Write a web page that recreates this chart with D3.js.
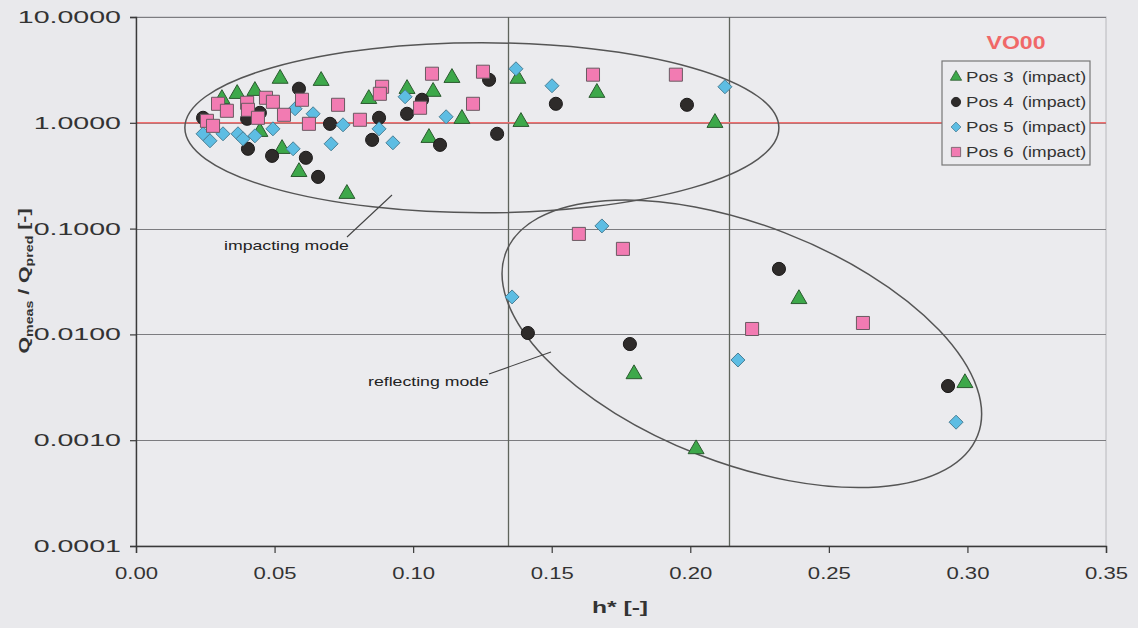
<!DOCTYPE html>
<html>
<head>
<meta charset="utf-8">
<script src="https://cdn.jsdelivr.net/npm/d3@7"></script>
<style>
  html, body { margin: 0; padding: 0; background: #e9e9ec; }
  svg { display: block; font-family: "Liberation Sans", Arial, sans-serif; }
</style>
</head>
<body>
<svg id="chart" width="1138" height="628"></svg>
<script>
// ---- data: dimensionless height h* vs. ratio of measured to predicted discharge ----
const pos3H = [0.0310, 0.0365, 0.0429, 0.0520, 0.0668, 0.0447, 0.0527, 0.0588, 0.0761, 0.0840, 0.0978, 0.1072,
               0.1140, 0.1176, 0.1057, 0.1378, 0.1389, 0.1663, 0.2089, 0.2392, 0.1797, 0.2021, 0.2991];
const pos3Q = [1.72, 1.92, 2.05, 2.67, 2.55, 0.840, 0.580, 0.351, 0.218, 1.72, 2.14, 2.01,
               2.72, 1.115, 0.737, 2.67, 1.044, 1.965, 1.022, 0.0221, 0.00431, 0.000842, 0.00355];

const pos4H = [0.0242, 0.0401, 0.0447, 0.0404, 0.0491, 0.0588, 0.0613, 0.0657, 0.0700, 0.0877, 0.0852, 0.0978,
               0.1032, 0.1097, 0.1274, 0.1303, 0.1515, 0.1988, 0.2320, 0.1414, 0.1782, 0.2930];
const pos4Q = [1.115, 1.091, 1.243, 0.568, 0.487, 2.10, 0.467, 0.308, 0.978, 1.115, 0.690, 1.217,
               1.651, 0.619, 2.55, 0.787, 1.512, 1.480, 0.0416, 0.01031, 0.00811, 0.00325];

const pos5H = [0.0242, 0.0267, 0.0314, 0.0368, 0.0386, 0.0429, 0.0494, 0.0574, 0.0567, 0.0639, 0.0747, 0.0704,
               0.0877, 0.0927, 0.0971, 0.1119, 0.1371, 0.1501, 0.2125, 0.1681, 0.1357, 0.2172, 0.2959];
const pos5Q = [0.787, 0.676, 0.787, 0.787, 0.706, 0.753, 0.877, 1.357, 0.568, 1.217, 0.957, 0.633,
               0.877, 0.647, 1.762, 1.140, 3.24, 2.24, 2.19, 0.106, 0.0226, 0.00573, 0.00148];

const pos6H = [0.0256, 0.0278, 0.0296, 0.0328, 0.0401, 0.0404, 0.0469, 0.0494, 0.0440, 0.0534, 0.0599, 0.0624,
               0.0729, 0.0808, 0.0888, 0.0880, 0.1025, 0.1068, 0.1216, 0.1252, 0.1649, 0.1948, 0.1598, 0.1757,
               0.2223, 0.2623];
const pos6Q = [1.044, 0.936, 1.512, 1.299, 1.546, 1.327, 1.724, 1.580, 1.115, 1.190, 1.651, 0.978,
               1.480, 1.068, 2.19, 1.88, 1.387, 2.91, 1.512, 3.04, 2.85, 2.85, 0.0891, 0.0643,
               0.01125, 0.01282];

const seriesNames = ["Pos 3", "Pos 4", "Pos 5", "Pos 6"];
const seriesNote = "(impact)";
const xTicks = [0.00, 0.05, 0.10, 0.15, 0.20, 0.25, 0.30, 0.35];
const yTicks = [0.0001, 0.001, 0.01, 0.1, 1, 10];
const boundaryH = [0.1342, 0.2140];   // vertical reference lines
const unityRatio = 1;                 // Q_meas = Q_pred
const chartTitle = "VO00";

// ---- layout ----
const svg = d3.select("#chart");
const X0 = 136, X1 = 1106, Y0 = 546, Y1 = 17;
const x = d3.scaleLinear().domain([0, 0.35]).range([X0, X1]);
const y = d3.scaleLog().domain([0.0001, 10]).range([Y0, Y1]);

const ink = "#3a3a3a";

// widen glyphs of a text selection by a factor (wide, condensed-height lettering)
function widen(sel, f) {
  sel.each(function () {
    const w = this.getComputedTextLength();
    d3.select(this).attr("textLength", w * f).attr("lengthAdjust", "spacingAndGlyphs");
  });
}

// plot frame (light)
svg.append("rect").attr("x", X0).attr("y", Y1).attr("width", X1 - X0).attr("height", Y0 - Y1)
  .attr("fill", "#ebebee").attr("stroke", "#b8b8bc").attr("stroke-width", 1);

// horizontal gridlines at each decade
svg.append("g").selectAll("line").data(yTicks.slice(1)).join("line")
  .attr("x1", X0).attr("x2", X1)
  .attr("y1", d => Math.round(y(d)) + 0.5).attr("y2", d => Math.round(y(d)) + 0.5)
  .attr("stroke", "#7c7c80").attr("stroke-width", 1);

// vertical reference lines
svg.append("g").selectAll("line").data(boundaryH).join("line")
  .attr("x1", d => Math.round(x(d)) + 0.5).attr("x2", d => Math.round(x(d)) + 0.5)
  .attr("y1", Y1).attr("y2", Y0)
  .attr("stroke", "#5f645c").attr("stroke-width", 1.3);

// unity line
svg.append("line")
  .attr("x1", X0).attr("x2", X1).attr("y1", y(unityRatio)).attr("y2", y(unityRatio))
  .attr("stroke", "#f07070").attr("stroke-width", 1.6);

// axes
const yAxis = d3.axisLeft(y).tickValues(yTicks).tickFormat(d3.format(".4f")).tickSize(6).tickPadding(9);
const gy = svg.append("g").attr("transform", `translate(${X0},0)`).call(yAxis);
const xAxis = d3.axisBottom(x).tickValues(xTicks).tickFormat(d3.format(".2f")).tickSize(7).tickPadding(14);
const gx = svg.append("g").attr("transform", `translate(0,${Y0})`).call(xAxis);
[gx, gy].forEach(g => {
  g.selectAll("path").attr("stroke", ink).attr("stroke-width", 1.4);
  g.selectAll("line").attr("stroke", ink).attr("stroke-width", 1.2);
  g.selectAll("text").attr("fill", "#333").attr("font-size", 17)
    .attr("font-family", "'Liberation Sans', Arial, sans-serif");
});
widen(gy.selectAll("text"), 1.68);
widen(gx.selectAll("text"), 1.3);

// annotation ellipses
const upper = { h: 0.1248, q: 0.897, rx: 297, ry: 85, rot: 0 };
const lower = { h: 0.2186, q: 0.00815, rx: 253, ry: 119, rot: 21.2 };
[upper, lower].forEach(e => {
  svg.append("ellipse")
    .attr("cx", 0).attr("cy", 0).attr("rx", e.rx).attr("ry", e.ry)
    .attr("transform", `translate(${x(e.h)},${y(e.q)}) rotate(${e.rot})`)
    .attr("fill", "none").attr("stroke", "#555").attr("stroke-width", 1.5);
});

// annotation labels with leader lines
const notes = [
  { text: "impacting mode", tx: 224, ty: 250, lx1: 347, ly1: 237, lx2: 392, ly2: 195 },
  { text: "reflecting mode", tx: 368, ty: 386, lx1: 489, ly1: 374, lx2: 551, ly2: 352 }
];
notes.forEach(n => {
  svg.append("line").attr("x1", n.lx1).attr("y1", n.ly1).attr("x2", n.lx2).attr("y2", n.ly2)
    .attr("stroke", "#444").attr("stroke-width", 1.1);
  const t = svg.append("text").attr("x", n.tx).attr("y", n.ty).text(n.text)
    .attr("font-size", 13).attr("fill", "#222");
  widen(t, 1.36);
});

// marker styles
const diamond = {
  draw(ctx, size) {
    const r = Math.sqrt(size) / 2 * Math.SQRT2;
    ctx.moveTo(0, -r); ctx.lineTo(r, 0); ctx.lineTo(0, r); ctx.lineTo(-r, 0); ctx.closePath();
  }
};
const styles = [
  { type: d3.symbolTriangle, size: 110, fill: "#3da84a", stroke: "#2c5a30", dy: 1 },
  { type: d3.symbolCircle,   size: 135, fill: "#2e2b2a", stroke: "#1c1a1a", dy: 0 },
  { type: diamond,           size: 98,  fill: "#5dbde3", stroke: "#4a7f95", dy: 0 },
  { type: d3.symbolSquare,   size: 170, fill: "#f27bb2", stroke: "#6a5a62", dy: 0 }
];
const series = [
  { h: pos3H, q: pos3Q },
  { h: pos4H, q: pos4Q },
  { h: pos5H, q: pos5Q },
  { h: pos6H, q: pos6Q }
];

series.forEach((s, i) => {
  const st = styles[i];
  const pts = s.h.map((h, k) => ({ h, q: s.q[k] }));
  svg.append("g").selectAll("path").data(pts).join("path")
    .attr("d", d3.symbol().type(st.type).size(st.size))
    .attr("transform", d => `translate(${x(d.h)},${y(d.q) + st.dy})`)
    .attr("fill", st.fill).attr("stroke", st.stroke).attr("stroke-width", 1);
});

// title
const tt = svg.append("text").attr("x", 1016).attr("y", 49).attr("text-anchor", "middle")
  .attr("font-size", 18).attr("font-weight", "bold").attr("fill", "#f06868").text(chartTitle);
widen(tt, 1.28);

// legend
const lg = svg.append("g").attr("transform", "translate(942,61)");
lg.append("rect").attr("width", 148).attr("height", 104)
  .attr("fill", "#ebebee").attr("stroke", "#777").attr("stroke-width", 1.2);
seriesNames.forEach((name, i) => {
  const st = styles[i];
  const cy = 16 + i * 25;
  lg.append("path").attr("d", d3.symbol().type(st.type).size(st.size * 0.5))
    .attr("transform", `translate(14,${cy})`)
    .attr("fill", st.fill).attr("stroke", st.stroke).attr("stroke-width", 0.8);
  const a = lg.append("text").attr("x", 24).attr("y", cy + 5).text(name).attr("font-size", 14).attr("fill", "#333");
  const b = lg.append("text").attr("x", 80).attr("y", cy + 5).text(seriesNote).attr("font-size", 14).attr("fill", "#333");
  widen(a, 1.33);
  widen(b, 1.27);
});

// axis titles
const xt = svg.append("text").attr("x", 620).attr("y", 613).attr("text-anchor", "middle")
  .attr("font-size", 17).attr("font-weight", "bold").attr("fill", "#333").text("h* [-]");
widen(xt, 1.45);

const yt = svg.append("text").attr("transform", "translate(29,281) rotate(-90) scale(1.42,1)")
  .attr("text-anchor", "middle").attr("font-size", 15).attr("font-weight", "bold").attr("fill", "#333");
yt.append("tspan").text("Q");
yt.append("tspan").text("meas").attr("font-size", 10).attr("dy", 4);
yt.append("tspan").text(" / Q").attr("dy", -4);
yt.append("tspan").text("pred").attr("font-size", 10).attr("dy", 4);
yt.append("tspan").text(" [-]").attr("dy", -4);
</script>
</body>
</html>
